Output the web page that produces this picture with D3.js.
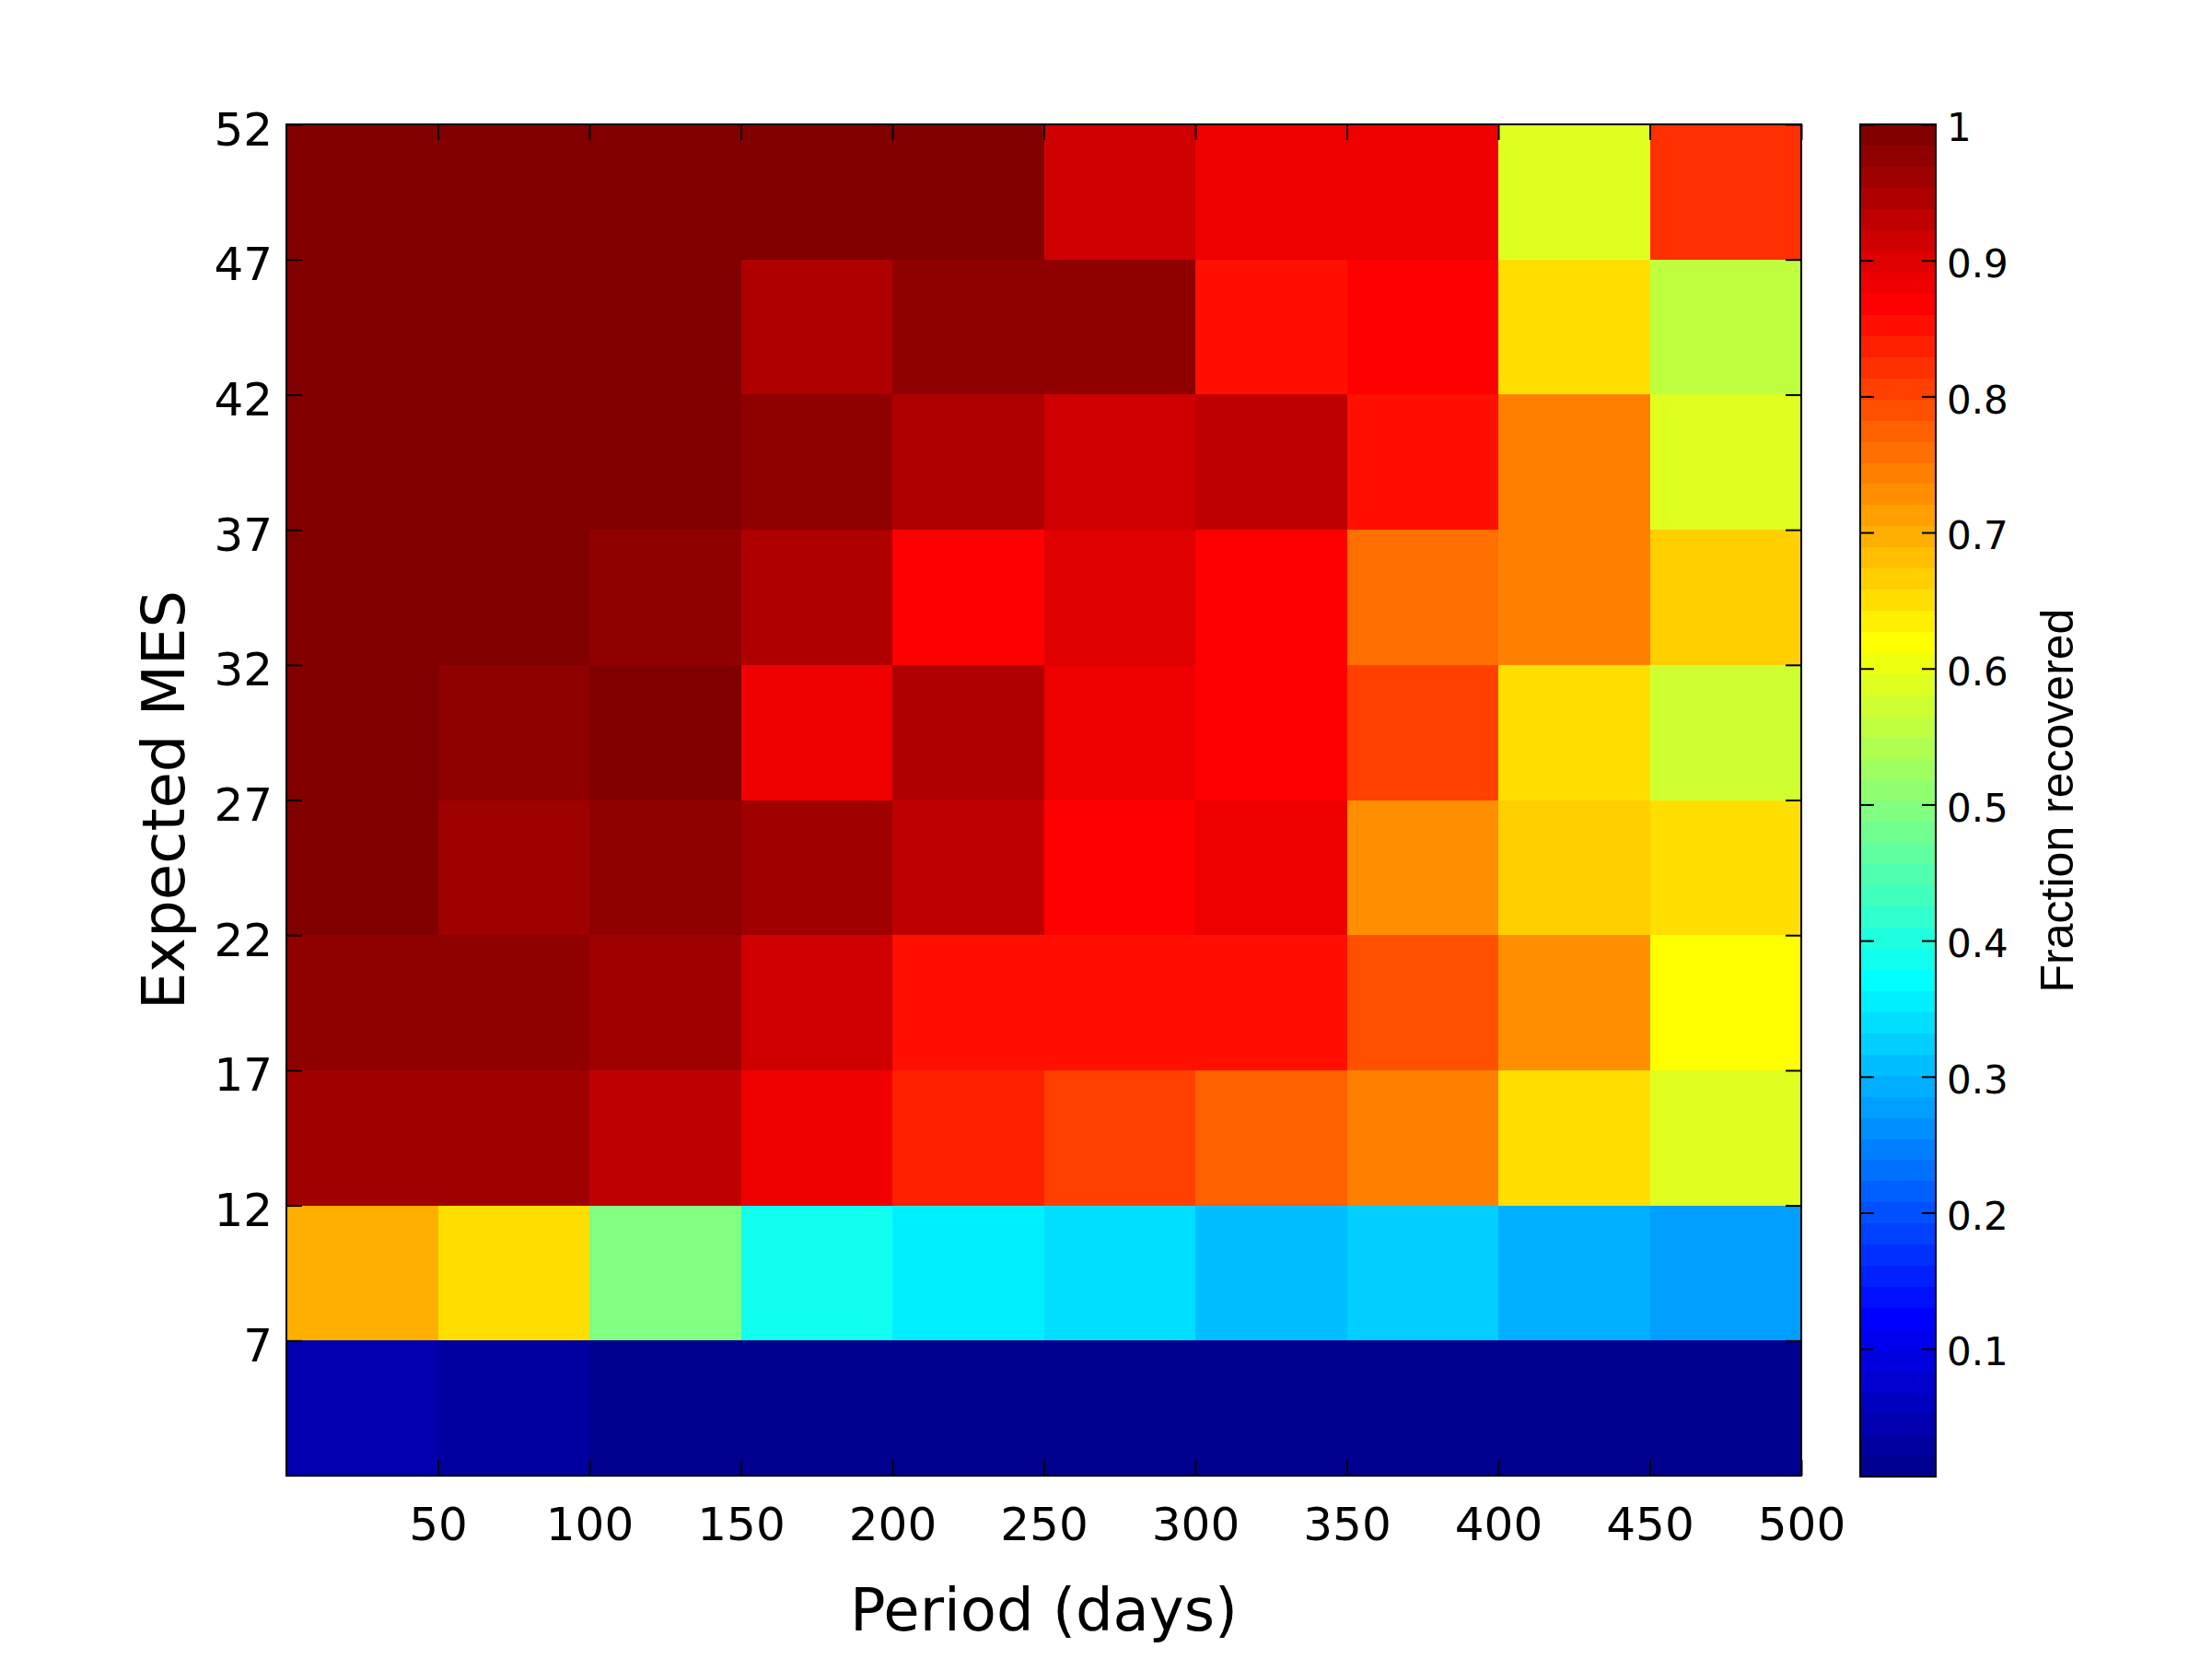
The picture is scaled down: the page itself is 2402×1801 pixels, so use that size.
<!DOCTYPE html>
<html><head><meta charset="utf-8">
<script src="https://cdn.jsdelivr.net/npm/d3@7/dist/d3.min.js"></script>
<style>body{margin:0;background:#fff}svg{display:block}</style>
</head><body>
<script>
// ---- data ----
const periodEdges = [0, 50, 100, 150, 200, 250, 300, 350, 400, 450, 500];
const mesEdges = [2, 7, 12, 17, 22, 27, 32, 37, 42, 47, 52];
const xTicks = [50, 100, 150, 200, 250, 300, 350, 400, 450, 500];
const yTicks = [7, 12, 17, 22, 27, 32, 37, 42, 47, 52];
const cbTicks = [0.1, 0.2, 0.3, 0.4, 0.5, 0.6, 0.7, 0.8, 0.9, 1];
// fraction recovered per MES bin (one value per 50-day period bin)
const mes2to7   = [0.045, 0.029, 0.012, 0.009, 0.008, 0.010, 0.007, 0.006, 0.008, 0.011];
const mes7to12  = [0.697, 0.650, 0.495, 0.386, 0.355, 0.339, 0.308, 0.324, 0.293, 0.277];
const mes12to17 = [0.961, 0.961, 0.930, 0.883, 0.837, 0.806, 0.775, 0.744, 0.650, 0.588];
const mes17to22 = [0.977, 0.977, 0.961, 0.914, 0.852, 0.852, 0.852, 0.790, 0.728, 0.619];
const mes22to27 = [1.000, 0.961, 0.977, 0.961, 0.930, 0.868, 0.883, 0.728, 0.666, 0.650];
const mes27to32 = [1.000, 0.977, 1.000, 0.883, 0.946, 0.883, 0.868, 0.806, 0.650, 0.573];
const mes32to37 = [1.000, 1.000, 0.977, 0.946, 0.868, 0.899, 0.868, 0.759, 0.744, 0.666];
const mes37to42 = [1.000, 1.000, 1.000, 0.977, 0.946, 0.914, 0.930, 0.852, 0.744, 0.588];
const mes42to47 = [1.000, 1.000, 1.000, 0.946, 0.977, 0.977, 0.852, 0.868, 0.650, 0.557];
const mes47to52 = [1.000, 1.000, 1.000, 1.000, 1.000, 0.914, 0.883, 0.883, 0.588, 0.821];
const rows = [mes2to7, mes7to12, mes12to17, mes17to22, mes22to27, mes27to32, mes32to37, mes37to42, mes42to47, mes47to52];

// ---- jet colormap (64 levels, MATLAB style) ----
const NC = 64;
function u(k) { return k <= 16 ? k / 16 : (k <= 31 ? 1 : (48 - k) / 16); }
function jet(idx) { // idx 0..63
  const i = idx + 1;
  const r = i >= 25 ? u(i - 24) : 0;
  const g = (i >= 9 && i <= 55) ? u(i - 8) : 0;
  const b = i <= 39 ? u(i + 8) : 0;
  return d3.rgb(Math.round(255 * r), Math.round(255 * g), Math.round(255 * b)).formatHex();
}
const cells = [];
rows.forEach((row, ri) => row.forEach((v, ci) => cells.push({
  x0: periodEdges[ci], x1: periodEdges[ci + 1], y0: mesEdges[ri], y1: mesEdges[ri + 1], v
})));
const cMin = d3.min(cells, d => d.v), cMax = d3.max(cells, d => d.v);
const colorIndex = d3.scaleQuantize().domain([cMin, cMax]).range(d3.range(NC));
const color = v => jet(colorIndex(v));

// ---- layout ----
const W = 2402, H = 1801;
const P = { left: 311, right: 1956, top: 135, bottom: 1602 };
const CB = { left: 2020, right: 2102, top: 135, bottom: 1603 };
const x = d3.scaleLinear().domain([0, 500]).range([P.left, P.right]);
const y = d3.scaleLinear().domain([2, 52]).range([P.bottom, P.top]);
const yc = d3.scaleLinear().domain([cMin, cMax]).range([CB.bottom, CB.top]);

const svg = d3.select('body').append('svg').attr('width', W).attr('height', H);

svg.append('g').selectAll('rect').data(cells).join('rect')
  .attr('x', d => x(d.x0)).attr('y', d => y(d.y1))
  .attr('width', d => x(d.x1) - x(d.x0)).attr('height', d => y(d.y0) - y(d.y1))
  .attr('fill', d => color(d.v)).attr('shape-rendering', 'crispEdges');

function styleAxis(g, size, dy) {
  g.attr('font-family', 'DejaVu Sans').attr('font-size', size);
  g.select('.domain').remove();
  g.selectAll('line').attr('stroke', '#000').attr('stroke-width', 2);
  g.selectAll('text').attr('fill', '#000');
  if (dy) g.selectAll('text').attr('dy', dy);
}
const TL = 17;
svg.append('g').attr('transform', `translate(0,${P.bottom})`)
  .call(d3.axisBottom(x).tickValues(xTicks).tickSizeInner(-TL).tickSizeOuter(0).tickPadding(34).tickFormat(d3.format('d')))
  .call(g => styleAxis(g, 50));
svg.append('g').attr('transform', `translate(0,${P.top})`)
  .call(d3.axisTop(x).tickValues(xTicks).tickSizeInner(-TL).tickSizeOuter(0).tickFormat(''))
  .call(g => styleAxis(g, 50));
svg.append('g').attr('transform', `translate(${P.left},0)`)
  .call(d3.axisLeft(y).tickValues(yTicks).tickSizeInner(-TL).tickSizeOuter(0).tickPadding(15).tickFormat(d3.format('d')))
  .call(g => styleAxis(g, 50, '0.44em'));
svg.append('g').attr('transform', `translate(${P.right},0)`)
  .call(d3.axisRight(y).tickValues(yTicks).tickSizeInner(-TL).tickSizeOuter(0).tickFormat(''))
  .call(g => styleAxis(g, 50));
svg.append('rect').attr('x', P.left).attr('y', P.top)
  .attr('width', P.right - P.left).attr('height', P.bottom - P.top)
  .attr('fill', 'none').attr('stroke', '#000').attr('stroke-width', 2);

// axis titles
svg.append('text').attr('x', (P.left + P.right) / 2).attr('y', 1770)
  .attr('text-anchor', 'middle').attr('font-family', 'DejaVu Sans').attr('font-size', 64)
  .text('Period (days)');
svg.append('text').attr('transform', `translate(200,${(P.top + P.bottom) / 2}) rotate(-90)`)
  .attr('text-anchor', 'middle').attr('font-family', 'DejaVu Sans').attr('font-size', 64)
  .text('Expected MES');

// ---- colorbar ----
const bands = d3.range(NC).map(k => ({ k, v0: cMin + k * (cMax - cMin) / NC, v1: cMin + (k + 1) * (cMax - cMin) / NC }));
svg.append('g').selectAll('rect').data(bands).join('rect')
  .attr('x', CB.left).attr('width', CB.right - CB.left)
  .attr('y', d => yc(d.v1)).attr('height', d => yc(d.v0) - yc(d.v1) + 0.5)
  .attr('fill', d => jet(d.k)).attr('shape-rendering', 'crispEdges');
const CTL = 15;
svg.append('g').attr('transform', `translate(${CB.right},0)`)
  .call(d3.axisRight(yc).tickValues(cbTicks).tickSizeInner(-CTL).tickSizeOuter(0).tickPadding(12)
    .tickFormat(d => d === 1 ? '1' : d3.format('.1f')(d)))
  .call(g => styleAxis(g, 42, '0.42em'));
svg.append('g').attr('transform', `translate(${CB.left},0)`)
  .call(d3.axisLeft(yc).tickValues(cbTicks).tickSizeInner(-CTL).tickSizeOuter(0).tickFormat(''))
  .call(g => styleAxis(g, 42));
svg.append('rect').attr('x', CB.left).attr('y', CB.top)
  .attr('width', CB.right - CB.left).attr('height', CB.bottom - CB.top)
  .attr('fill', 'none').attr('stroke', '#000').attr('stroke-width', 2);
svg.append('text').attr('transform', `translate(2251,${(CB.top + CB.bottom) / 2}) rotate(-90)`)
  .attr('text-anchor', 'middle').attr('font-family', 'Liberation Sans').attr('font-size', 50)
  .text('Fraction recovered');
</script>
</body></html>
